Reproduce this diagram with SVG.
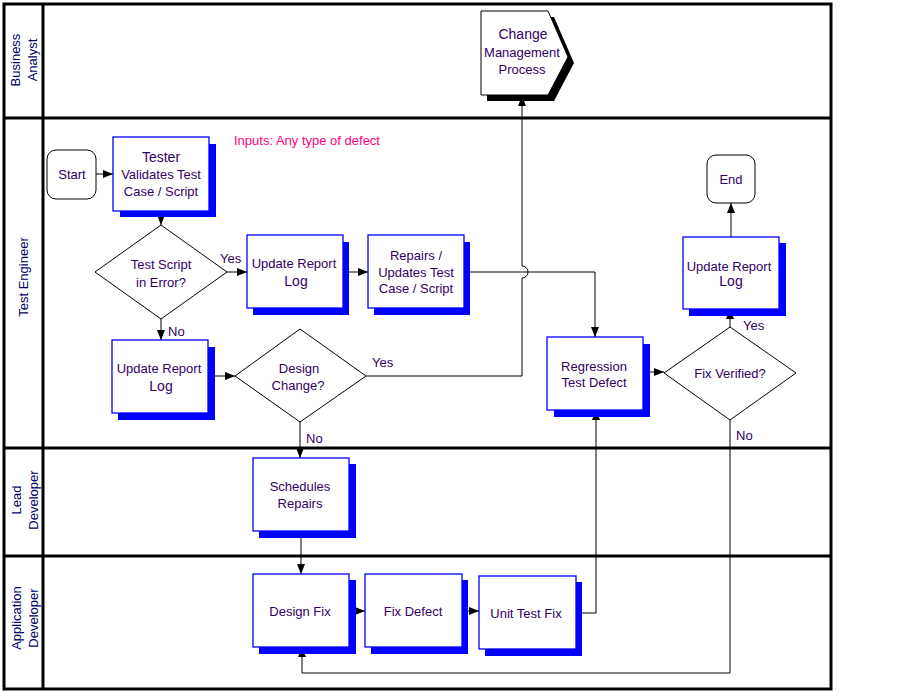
<svg xmlns="http://www.w3.org/2000/svg" width="898" height="693" viewBox="0 0 898 693">
<style>
.frame{fill:none;stroke:#000;stroke-width:3}
.box{fill:#fff;stroke:#0000ff;stroke-width:1.3}
.shadow{fill:#0000ff}
.term{fill:#fff;stroke:#000;stroke-width:1}
.dia{fill:#fff;stroke:#000;stroke-width:1}
.t{font-family:"Liberation Sans",Arial,sans-serif;font-size:13px;fill:#330066;text-anchor:middle}
.lbl{font-family:"Liberation Sans",Arial,sans-serif;font-size:13px;fill:#330066}
.lane{font-family:"Liberation Sans",Arial,sans-serif;font-size:13px;fill:#000066;text-anchor:middle}
.note{font-family:"Liberation Sans",Arial,sans-serif;font-size:13px;fill:#ff0080}
.c{fill:none;stroke:#000;stroke-width:1}
</style>
<defs>
<marker id="ah" markerUnits="userSpaceOnUse" markerWidth="10" markerHeight="10" viewBox="0 0 10 10" refX="10" refY="5" orient="auto">
<path d="M0,1 L10,5 L0,9 Z" fill="#000"/>
</marker>
</defs>
<rect width="898" height="693" fill="#fff"/>
<g id="lanes">
<rect class="frame" x="4" y="4" width="827" height="685"/>
<line class="frame" x1="43" y1="4" x2="43" y2="689"/>
<line class="frame" x1="4" y1="118" x2="831" y2="118"/>
<line class="frame" x1="4" y1="448" x2="831" y2="448"/>
<line class="frame" x1="4" y1="556" x2="831" y2="556"/>
<text class="lane" transform="translate(23,60) rotate(-90)"><tspan x="0" y="-3">Business</tspan><tspan x="0" y="14">Analyst</tspan></text>
<text class="lane" transform="translate(23,277) rotate(-90)"><tspan x="0" y="5">Test Engineer</tspan></text>
<text class="lane" transform="translate(24,500) rotate(-90)"><tspan x="0" y="-3">Lead</tspan><tspan x="0" y="14">Developer</tspan></text>
<text class="lane" transform="translate(24,618) rotate(-90)"><tspan x="0" y="-3">Application</tspan><tspan x="0" y="14">Developer</tspan></text>
</g>
<text class="note" x="234" y="144.5">Inputs: Any type of defect</text>
<g id="connectors">
<path class="c" d="M96,174 H113" marker-end="url(#ah)"/>
<path class="c" d="M161,211 V225" marker-end="url(#ah)"/>
<path class="c" d="M227,272 H247" marker-end="url(#ah)"/>
<path class="c" d="M343,272 H368" marker-end="url(#ah)"/>
<path class="c" d="M464,272 H595 V337" marker-end="url(#ah)"/>
<path class="c" d="M161,319 V340" marker-end="url(#ah)"/>
<path class="c" d="M208,376 H235" marker-end="url(#ah)"/>
<path class="c" d="M366,376 H522 V278 A6,6 0 0 0 522,266 V96" marker-end="url(#ah)"/>
<path class="c" d="M300,422 V458" marker-end="url(#ah)"/>
<path class="c" d="M301,531 V574" marker-end="url(#ah)"/>
<path class="c" d="M349,611 H365" marker-end="url(#ah)"/>
<path class="c" d="M462,611 H479" marker-end="url(#ah)"/>
<path class="c" d="M576,613 H596 V410" marker-end="url(#ah)"/>
<path class="c" d="M643,372 H664" marker-end="url(#ah)"/>
<path class="c" d="M730,327 V309" marker-end="url(#ah)"/>
<path class="c" d="M731,237 V203" marker-end="url(#ah)"/>
<path class="c" d="M730,420 V673 H302 V647" marker-end="url(#ah)"/>
<text class="lbl" x="220" y="263">Yes</text>
<text class="lbl" x="168" y="336">No</text>
<text class="lbl" x="372" y="367">Yes</text>
<text class="lbl" x="306" y="443">No</text>
<text class="lbl" x="743" y="330">Yes</text>
<text class="lbl" x="736" y="440">No</text>
</g>
<g id="change-mgmt">
<polygon points="487,17 554,17 574,63 554,101 487,101" fill="#000"/>
<polygon points="481,11 548,11 568,57 548,95 481,95" fill="#fff" stroke="#000" stroke-width="1"/>
<text class="t" x="523" y="38.5" style="font-size:14px">Change</text>
<text class="t" x="522" y="56.5">Management</text>
<text class="t" x="522" y="73.5">Process</text>
</g>
<g id="start">
<rect class="term" x="47" y="150" width="49" height="49" rx="9"/>
<text class="t" x="72" y="178.5">Start</text>
</g>
<g id="tester">
<rect class="shadow" x="120" y="144" width="96" height="73"/>
<rect class="box" x="113" y="137" width="96" height="74"/>
<text class="t" x="161" y="161.5" style="font-size:14px">Tester</text>
<text class="t" x="161" y="178.5">Validates Test</text>
<text class="t" x="161" y="195.5">Case / Script</text>
</g>
<g id="test-script-error">
<polygon class="dia" points="161,225 227,272 161,319 95,272"/>
<text class="t" x="161" y="269">Test Script</text>
<text class="t" x="161" y="286.5">in Error?</text>
</g>
<g id="update-log-1">
<rect class="shadow" x="253" y="242" width="96" height="73"/>
<rect class="box" x="247" y="235" width="96" height="73"/>
<text class="t" x="294" y="268">Update Report</text>
<text class="t" x="296" y="285.5" style="font-size:14px">Log</text>
</g>
<g id="repairs">
<rect class="shadow" x="374" y="242" width="96" height="73"/>
<rect class="box" x="368" y="235" width="96" height="73"/>
<text class="t" x="416" y="259.5">Repairs /</text>
<text class="t" x="416" y="276.5">Updates Test</text>
<text class="t" x="416" y="292.5">Case / Script</text>
</g>
<g id="update-log-3">
<rect class="shadow" x="118" y="347" width="97" height="73"/>
<rect class="box" x="112" y="340" width="96" height="73"/>
<text class="t" x="159" y="372.5">Update Report</text>
<text class="t" x="161" y="390.5" style="font-size:14px">Log</text>
</g>
<g id="design-change">
<polygon class="dia" points="300,329 366,376 300,422 235,376"/>
<text class="t" x="299" y="372.5">Design</text>
<text class="t" x="298" y="389.5">Change?</text>
</g>
<g id="regression">
<rect class="shadow" x="554" y="344" width="96" height="73"/>
<rect class="box" x="547" y="337" width="96" height="73"/>
<text class="t" x="594" y="370.5">Regression</text>
<text class="t" x="594" y="386.5">Test Defect</text>
</g>
<g id="fix-verified">
<polygon class="dia" points="730,327 796,373 730,420 664,373"/>
<text class="t" x="730" y="377.5">Fix Verified?</text>
</g>
<g id="update-log-2">
<rect class="shadow" x="689" y="243" width="97" height="73"/>
<rect class="box" x="683" y="237" width="96" height="72"/>
<text class="t" x="729" y="270.5">Update Report</text>
<text class="t" x="731" y="285.5" style="font-size:14px">Log</text>
</g>
<g id="end">
<rect class="term" x="707" y="155" width="48" height="48" rx="9"/>
<text class="t" x="731" y="184">End</text>
</g>
<g id="schedules">
<rect class="shadow" x="259" y="464" width="97" height="74"/>
<rect class="box" x="253" y="458" width="96" height="73"/>
<text class="t" x="300" y="490.5">Schedules</text>
<text class="t" x="300" y="507.5">Repairs</text>
</g>
<g id="design-fix">
<rect class="shadow" x="259" y="580" width="97" height="74"/>
<rect class="box" x="253" y="574" width="96" height="73"/>
<text class="t" x="300" y="615.5">Design Fix</text>
</g>
<g id="fix-defect">
<rect class="shadow" x="371" y="580" width="97" height="74"/>
<rect class="box" x="365" y="574" width="97" height="73"/>
<text class="t" x="413" y="615.5">Fix Defect</text>
</g>
<g id="unit-test-fix">
<rect class="shadow" x="485" y="582" width="97" height="74"/>
<rect class="box" x="479" y="576" width="97" height="73"/>
<text class="t" x="526" y="617.5">Unit Test Fix</text>
</g>
</svg>
